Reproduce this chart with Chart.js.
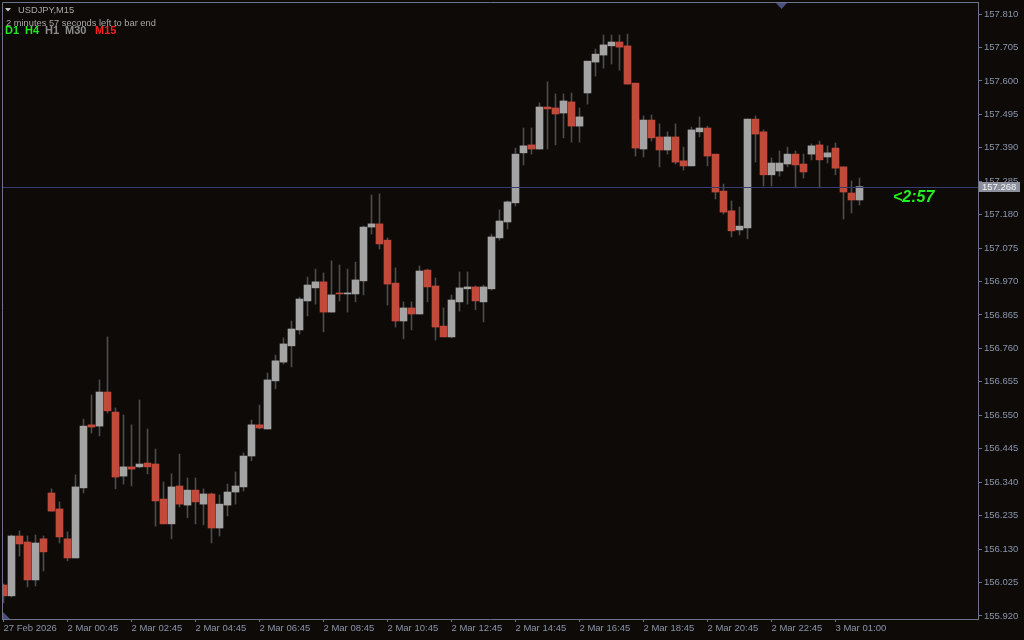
<!DOCTYPE html>
<html>
<head>
<meta charset="utf-8">
<title>USDJPY,M15</title>
<script src="https://cdn.jsdelivr.net/npm/chart.js@4.4.1/dist/chart.umd.min.js"></script>
<style>
  html, body { margin: 0; padding: 0; background: #0d0a08; }
  #wrap { position: relative; width: 1024px; height: 640px; }
</style>
</head>
<body>
<div id="wrap"><canvas id="chart" width="1024" height="640"></canvas></div>
<script>
// USDJPY M15 candles (bar index 0 = leftmost)
var opens = [156.017,155.983,156.171,156.152,156.033,156.162,156.306,156.256,156.162,156.102,
  156.322,156.520,156.516,156.623,156.560,156.359,156.388,156.388,156.400,156.397,
  156.287,156.209,156.328,156.268,156.315,156.271,156.303,156.196,156.268,156.309,
  156.325,156.422,156.520,156.507,156.658,156.717,156.768,156.818,156.909,156.950,
  156.969,156.874,156.934,156.931,156.931,156.972,157.141,157.151,157.100,156.965,
  156.846,156.887,156.868,157.006,156.956,156.830,156.796,156.906,156.947,156.953,
  156.906,156.947,157.107,157.157,157.217,157.374,157.399,157.386,157.518,157.515,
  157.499,157.534,157.458,157.562,157.659,157.681,157.710,157.722,157.710,157.593,
  157.386,157.477,157.424,157.383,157.424,157.349,157.333,157.440,157.452,157.370,
  157.254,157.192,157.132,157.138,157.480,157.440,157.305,157.317,157.339,157.370,
  157.339,157.370,157.399,157.361,157.389,157.330,157.248,157.226];
var highs = [156.020,156.174,156.187,156.171,156.174,156.171,156.319,156.278,156.184,156.363,
  156.538,156.614,156.661,156.796,156.573,156.551,156.520,156.598,156.507,156.444,
  156.341,156.366,156.428,156.353,156.353,156.319,156.306,156.300,156.334,156.372,
  156.432,156.535,156.582,156.683,156.739,156.793,156.846,156.921,156.984,157.009,
  156.997,157.035,157.022,157.009,157.031,157.144,157.242,157.245,157.107,157.013,
  156.906,156.906,157.019,157.009,156.981,156.887,156.928,157.000,157.000,156.956,
  156.959,157.119,157.195,157.223,157.389,157.452,157.452,157.531,157.597,157.559,
  157.559,157.562,157.515,157.662,157.700,157.744,157.744,157.744,157.747,157.593,
  157.490,157.493,157.465,157.440,157.465,157.392,157.455,157.487,157.458,157.370,
  157.276,157.223,157.204,157.480,157.490,157.446,157.358,157.380,157.392,157.380,
  157.370,157.402,157.411,157.396,157.405,157.330,157.286,157.295];
var lows = [155.961,155.979,156.108,156.011,156.014,156.061,156.249,156.149,156.093,156.102,
  156.306,156.494,156.485,156.557,156.319,156.334,156.328,156.385,156.366,156.202,
  156.209,156.162,156.262,156.228,156.209,156.206,156.149,156.171,156.234,156.271,
  156.312,156.407,156.507,156.507,156.633,156.711,156.702,156.805,156.862,156.899,
  156.812,156.874,156.909,156.874,156.906,156.928,157.119,157.072,156.896,156.827,
  156.790,156.818,156.868,156.906,156.786,156.796,156.793,156.877,156.899,156.881,
  156.843,156.943,157.100,157.135,157.207,157.336,157.370,157.386,157.386,157.399,
  157.421,157.408,157.408,157.527,157.615,157.640,157.653,157.634,157.590,157.364,
  157.361,157.411,157.330,157.370,157.339,157.320,157.333,157.424,157.333,157.229,
  157.182,157.110,157.116,157.104,157.345,157.270,157.270,157.301,157.330,157.264,
  157.295,157.352,157.264,157.342,157.305,157.166,157.185,157.210];
var closes = [155.983,156.171,156.146,156.033,156.149,156.121,156.249,156.168,156.102,156.325,
  156.516,156.513,156.623,156.564,156.356,156.388,156.381,156.397,156.388,156.281,
  156.209,156.325,156.271,156.315,156.278,156.303,156.196,156.271,156.309,156.328,
  156.422,156.520,156.510,156.661,156.721,156.774,156.821,156.915,156.959,156.969,
  156.874,156.928,156.931,156.934,156.975,157.141,157.151,157.088,156.962,156.846,
  156.887,156.868,157.003,156.953,156.827,156.796,156.912,156.950,156.953,156.909,
  156.953,157.110,157.160,157.220,157.370,157.396,157.386,157.518,157.512,157.496,
  157.537,157.458,157.487,157.662,157.684,157.713,157.722,157.706,157.590,157.389,
  157.477,157.421,157.383,157.424,157.345,157.333,157.446,157.452,157.364,157.251,
  157.188,157.129,157.144,157.480,157.433,157.305,157.342,157.342,157.370,157.336,
  157.314,157.396,157.352,157.374,157.326,157.251,157.226,157.268];

var timeTickBars = [0, 8, 16, 24, 32, 40, 48, 56, 64, 72, 80, 88, 96, 104];
var timeTickLabels = ["27 Feb 2026", "2 Mar 00:45", "2 Mar 02:45", "2 Mar 04:45", "2 Mar 06:45",
  "2 Mar 08:45", "2 Mar 10:45", "2 Mar 12:45", "2 Mar 14:45", "2 Mar 16:45", "2 Mar 18:45",
  "2 Mar 20:45", "2 Mar 22:45", "3 Mar 01:00"];
var priceTicks = [157.810, 157.705, 157.600, 157.495, 157.390, 157.285, 157.180, 157.075, 156.970,
  156.865, 156.760, 156.655, 156.550, 156.445, 156.340, 156.235, 156.130, 156.025, 155.920];
var lastPrice = 157.268;

var BG = "#0d0a08";
var AXIS = "#6d7389";
var LABEL = "#8a95ab";
var BULL = "#a4a4a4";
var BEAR = "#c34a3b";
var WICK = "#4c4c4c";
var tickFont = { family: "Liberation Sans", size: 9.5 };

var bodies = [], wicks = [], bodyColors = [];
for (var i = 0; i < opens.length; i++) {
  bodies.push({ x: i, y: [opens[i], closes[i]] });
  wicks.push({ x: i, y: [lows[i], highs[i]] });
  bodyColors.push(closes[i] >= opens[i] ? BULL : BEAR);
}

var mtDecor = {
  id: "mtDecor",
  beforeDraw: function (chart) {
    var c = chart.ctx;
    c.save();
    c.fillStyle = BG;
    c.fillRect(0, 0, chart.width, chart.height);
    c.restore();
  },
  afterDatasetsDraw: function (chart) {
    var c = chart.ctx, a = chart.chartArea;
    var y = Math.round(chart.scales.y.getPixelForValue(lastPrice)) + 0.5;
    c.save();
    c.strokeStyle = "#363d6c";
    c.lineWidth = 1;
    c.beginPath();
    c.moveTo(a.left, y);
    c.lineTo(a.right, y);
    c.stroke();
    c.restore();
  },
  afterDraw: function (chart) {
    var c = chart.ctx, a = chart.chartArea;
    c.save();
    // frame top / left
    c.strokeStyle = AXIS;
    c.lineWidth = 1;
    c.beginPath();
    c.moveTo(a.left + 0.5, a.bottom);
    c.lineTo(a.left + 0.5, a.top + 0.5);
    c.lineTo(a.right, a.top + 0.5);
    c.stroke();

    // shift markers
    c.fillStyle = "#4a5080";
    c.beginPath();
    c.moveTo(776, a.top + 1); c.lineTo(787, a.top + 1); c.lineTo(781.5, a.top + 7);
    c.closePath(); c.fill();
    c.beginPath();
    c.moveTo(a.left + 1, a.bottom - 7); c.lineTo(a.left + 1, a.bottom); c.lineTo(a.left + 8, a.bottom);
    c.closePath(); c.fill();

    // bid price label
    var y = Math.round(chart.scales.y.getPixelForValue(lastPrice));
    c.fillStyle = "#8c909c";
    c.fillRect(a.right + 1, y - 5, 41, 10);
    c.fillStyle = "#f4f4f4";
    c.font = "9.5px 'Liberation Sans'";
    c.textBaseline = "middle";
    c.fillText(lastPrice.toFixed(3), a.right + 4, y + 0.5);

    // header texts
    c.textBaseline = "alphabetic";
    c.fillStyle = "#c8c8c8";
    c.beginPath();
    c.moveTo(5, 8); c.lineTo(11, 8); c.lineTo(8, 11.5);
    c.closePath(); c.fill();
    c.fillStyle = "#a9a9a9";
    c.font = "9.3px 'Liberation Sans'";
    c.fillText("USDJPY,M15", 18, 13);
    c.font = "9.3px 'Liberation Sans'";
    c.fillText("2 minutes 57 seconds left to bar end", 6, 26);

    c.font = "bold 11px 'Liberation Sans'";
    var tf = [["D1", 5, "#1ee81e"], ["H4", 25, "#1ee81e"], ["H1", 45, "#8c8c8c"],
              ["M30", 65, "#8c8c8c"], ["M15", 95, "#ff1e1e"]];
    tf.forEach(function (t) {
      c.fillStyle = t[2];
      c.fillText(t[0], t[1], 34);
    });

    // countdown
    c.fillStyle = "#22ee22";
    c.font = "italic bold 16px 'Liberation Sans'";
    c.fillText("<2:57", 893, 202);
    c.restore();
  }
};

new Chart(document.getElementById("chart").getContext("2d"), {
  type: "bar",
  data: {
    datasets: [{
      label: "body",
      data: bodies,
      backgroundColor: bodyColors,
      barThickness: 7,
      minBarLength: 1,
      grouped: false,
      borderWidth: 0,
      order: 0
    }, {
      label: "wick",
      data: wicks,
      backgroundColor: WICK,
      barThickness: 1,
      grouped: false,
      borderWidth: 0,
      order: 1
    }]
  },
  options: {
    responsive: false,
    animation: false,
    devicePixelRatio: 1,
    layout: { padding: { left: 2, top: 2, right: 0, bottom: 0 } },
    plugins: { legend: { display: false }, tooltip: { enabled: false } },
    scales: {
      x: {
        type: "linear",
        min: -0.1875,
        max: 121.8125,
        offset: false,
        grid: { offset: false, drawOnChartArea: false, drawTicks: true, tickLength: 3, color: AXIS },
        border: { display: true, color: AXIS },
        afterBuildTicks: function (s) { s.ticks = timeTickBars.map(function (v) { return { value: v }; }); },
        afterFit: function (s) { s.height = 21; s.paddingLeft = 0; s.paddingRight = 0; },
        ticks: {
          autoSkip: false, maxRotation: 0, minRotation: 0, align: "start", padding: 1,
          color: LABEL, font: tickFont,
          callback: function (v, idx) { return timeTickLabels[idx]; }
        }
      },
      y: {
        type: "linear",
        position: "right",
        min: 155.9103,
        max: 157.8477,
        grid: { drawOnChartArea: false, drawTicks: true, tickLength: 4, color: AXIS },
        border: { display: true, color: AXIS },
        afterBuildTicks: function (s) { s.ticks = priceTicks.map(function (v) { return { value: v }; }); },
        afterFit: function (s) { s.width = 46; s.paddingTop = 0; s.paddingBottom = 0; },
        ticks: {
          padding: 2, color: LABEL, font: tickFont,
          callback: function (v) { return v.toFixed(3); }
        }
      }
    }
  },
  plugins: [mtDecor]
});
</script>
</body>
</html>
